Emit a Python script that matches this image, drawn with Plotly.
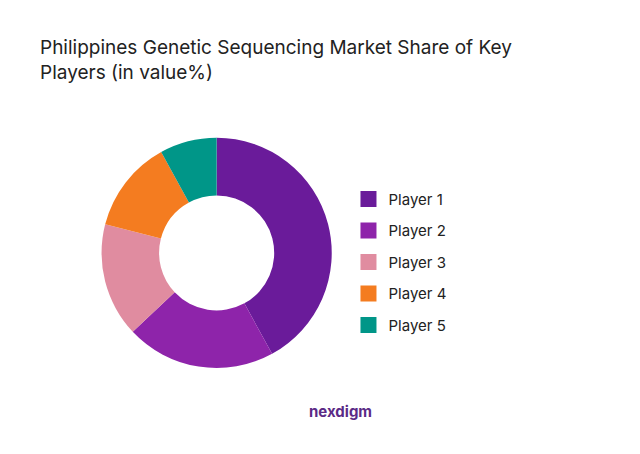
import plotly.graph_objects as go

players = ["Player 1", "Player 2", "Player 3", "Player 4", "Player 5"]
shares = [42, 21, 16, 13, 8]
colors = ["#6a1b9a", "#8e24aa", "#e08ca0", "#f47c20", "#009688"]

fig = go.Figure(go.Pie(
    labels=players, values=shares, hole=0.5, sort=False, direction="clockwise",
    rotation=0, marker=dict(colors=colors), textinfo="none", hoverinfo="label+percent",
    domain=dict(x=[0.146, 0.506], y=[0.207, 0.714]), showlegend=False,
))

# legend entries as separate groups so the gap between them can be set
for name, c in zip(players, colors):
    fig.add_trace(go.Scatter(x=[None], y=[None], mode="markers", name=name,
                             legendgroup=name,
                             marker=dict(symbol="square", size=16, color=c)))

fig.update_layout(
    width=640, height=454, margin=dict(l=0, r=0, t=0, b=0),
    paper_bgcolor="white", plot_bgcolor="white",
    xaxis=dict(visible=False), yaxis=dict(visible=False),
    font=dict(family="Inter, Noto Sans, sans-serif", color="#222"),
    title=dict(text="Philippines Genetic Sequencing Market Share of Key<br>Players (in value%)",
               x=0.05, xanchor="left", y=0.898, yanchor="top",
               font=dict(size=19, color="#222")),
    legend=dict(x=0.532, y=0.44, xanchor="left", yanchor="middle",
                font=dict(size=15, color="#222"), itemwidth=30, tracegroupgap=9),
    annotations=[dict(text="<b>nexdigm</b>", x=0.52, y=0.085, xref="paper", yref="paper",
                      showarrow=False, font=dict(size=15, color="#5b2a86"))],
)

fig.write_html("out.html")
